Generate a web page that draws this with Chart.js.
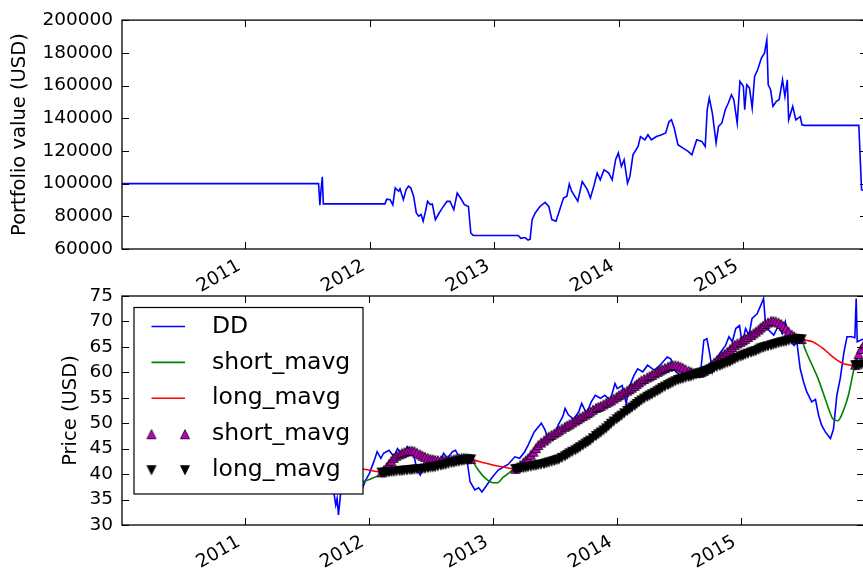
<!DOCTYPE html>
<html>
<head>
<meta charset="utf-8">
<script src="https://cdn.jsdelivr.net/npm/chart.js@4.4.1/dist/chart.umd.min.js"></script>
<style>
  html, body { margin: 0; padding: 0; background: #fff; overflow: hidden; }
  #wrap { position: relative; width: 863px; height: 573px; overflow: hidden; background: #fff; }
  #wrap canvas { position: absolute; left: 0; top: 0; }
</style>
</head>
<body>
<div id="wrap">
  <canvas id="portfolio" width="870" height="300"></canvas>
  <canvas id="price" width="870" height="573"></canvas>
</div>
<script>
// ---- axis definitions ----
const X_START = '2010-01-04';
const X_END = '2015-12-31';
const yearTicks = [2011, 2012, 2013, 2014, 2015];
const portfolioRange = { min: 60000, max: 200000, step: 20000 };
const priceRange = { min: 30, max: 75, step: 5 };

// ---- portfolio value (USD) ----
const portfolioValue = [
  ['2010-01-04', 100000], ['2011-08-04', 100000], ['2011-08-08', 86800], ['2011-08-11', 95500],
  ['2011-08-15', 104200], ['2011-08-18', 87600], ['2012-02-15', 87600], ['2012-02-20', 90500],
  ['2012-03-01', 90200], ['2012-03-09', 87000], ['2012-03-16', 97300], ['2012-03-26', 95300],
  ['2012-03-30', 96800], ['2012-04-09', 90200], ['2012-04-17', 96300], ['2012-04-24', 98400],
  ['2012-05-01', 97300], ['2012-05-09', 92300], ['2012-05-17', 82100], ['2012-05-24', 80100],
  ['2012-05-31', 81100], ['2012-06-06', 77000], ['2012-06-13', 83100], ['2012-06-19', 89200],
  ['2012-06-27', 87200], ['2012-07-03', 87500], ['2012-07-12', 77900], ['2012-07-23', 82000],
  ['2012-08-01', 85000], ['2012-08-15', 89100], ['2012-08-24', 89100], ['2012-09-04', 84000],
  ['2012-09-14', 94200], ['2012-09-27', 90100], ['2012-10-05', 87100], ['2012-10-17', 86000],
  ['2012-10-24', 69800], ['2012-10-31', 68300], ['2013-03-12', 68300], ['2013-03-20', 66500],
  ['2013-04-01', 67000], ['2013-04-10', 65500], ['2013-04-16', 66000], ['2013-04-22', 77900],
  ['2013-05-01', 82000], ['2013-05-15', 86000], ['2013-05-30', 88500], ['2013-06-10', 86000],
  ['2013-06-19', 78000], ['2013-07-01', 77000], ['2013-07-12', 84000], ['2013-07-23', 91200],
  ['2013-08-02', 92300], ['2013-08-09', 99700], ['2013-08-16', 95300], ['2013-09-03', 89200],
  ['2013-09-16', 101300], ['2013-10-01', 96300], ['2013-10-10', 91200], ['2013-10-21', 99100],
  ['2013-10-30', 106400], ['2013-11-08', 102300], ['2013-11-19', 108500], ['2013-12-03', 106400],
  ['2013-12-13', 102300], ['2013-12-23', 114600], ['2013-12-31', 118700], ['2014-01-09', 110500],
  ['2014-01-17', 114600], ['2014-01-27', 100300], ['2014-02-03', 104400], ['2014-02-12', 117600],
  ['2014-02-27', 122700], ['2014-03-06', 128800], ['2014-03-19', 126800], ['2014-03-28', 129900],
  ['2014-04-07', 126800], ['2014-04-22', 128800], ['2014-05-07', 129900], ['2014-05-19', 131000],
  ['2014-05-29', 138000], ['2014-06-05', 139000], ['2014-06-13', 134000], ['2014-06-24', 123800],
  ['2014-07-09', 121700], ['2014-07-24', 119700], ['2014-08-04', 117600], ['2014-08-18', 126800],
  ['2014-09-02', 125800], ['2014-09-12', 122700], ['2014-09-18', 145200], ['2014-09-24', 152300],
  ['2014-10-03', 143100], ['2014-10-14', 124800], ['2014-10-21', 135000], ['2014-10-31', 137100],
  ['2014-11-10', 145200], ['2014-11-19', 149300], ['2014-11-28', 154300], ['2014-12-05', 151300],
  ['2014-12-15', 137000], ['2014-12-23', 162500], ['2015-01-02', 159500], ['2015-01-06', 145200],
  ['2015-01-12', 160500], ['2015-01-20', 158500], ['2015-01-28', 146200], ['2015-02-04', 165500],
  ['2015-02-13', 169600], ['2015-02-24', 176800], ['2015-03-05', 179800], ['2015-03-12', 188000],
  ['2015-03-16', 160400], ['2015-03-23', 157400], ['2015-03-30', 147200], ['2015-04-09', 150300],
  ['2015-04-17', 151300], ['2015-04-27', 163500], ['2015-05-04', 153300], ['2015-05-11', 163500],
  ['2015-05-15', 139000], ['2015-05-27', 147200], ['2015-06-05', 139000], ['2015-06-18', 141000],
  ['2015-06-23', 136000], ['2015-06-30', 135600], ['2015-12-07', 135600], ['2015-12-15', 96300],
  ['2015-12-31', 95000]
];

// ---- DD closing price (USD) ----
const ddPrice = [
  ['2011-08-01', 42.0], ['2011-08-05', 39.8], ['2011-08-10', 37.8], ['2011-08-19', 38.5],
  ['2011-08-31', 40.0], ['2011-09-09', 38.2], ['2011-09-16', 38.8], ['2011-09-20', 36.6],
  ['2011-09-26', 33.9], ['2011-09-30', 35.2], ['2011-10-04', 32.0], ['2011-10-11', 36.6],
  ['2011-10-19', 38.0], ['2011-10-27', 39.5], ['2011-11-04', 38.2], ['2011-11-14', 39.0],
  ['2011-11-23', 37.0], ['2011-12-02', 38.4], ['2011-12-14', 37.2], ['2011-12-23', 38.8],
  ['2012-01-03', 40.1], ['2012-01-16', 42.4], ['2012-01-26', 44.4], ['2012-02-06', 43.1],
  ['2012-02-14', 44.1], ['2012-03-01', 44.7], ['2012-03-16', 43.4], ['2012-03-26', 45.0],
  ['2012-04-09', 43.7], ['2012-04-24', 45.4], ['2012-05-04', 44.7], ['2012-05-14', 43.4],
  ['2012-05-23', 40.8], ['2012-06-01', 39.8], ['2012-06-12', 41.4], ['2012-06-26', 40.8],
  ['2012-07-11', 41.4], ['2012-07-26', 42.1], ['2012-08-09', 44.1], ['2012-08-20', 43.1],
  ['2012-09-04', 44.4], ['2012-09-13', 44.7], ['2012-09-21', 43.7], ['2012-10-08', 43.4],
  ['2012-10-17', 42.7], ['2012-10-26', 38.5], ['2012-11-09', 36.9], ['2012-11-20', 37.3],
  ['2012-11-30', 36.5], ['2012-12-14', 37.8], ['2012-12-28', 39.2], ['2013-01-17', 40.8],
  ['2013-02-01', 41.4], ['2013-02-15', 41.9], ['2013-03-07', 43.4], ['2013-03-21', 43.1],
  ['2013-04-05', 44.4], ['2013-04-15', 45.7], ['2013-05-03', 48.3], ['2013-05-24', 50.0],
  ['2013-06-03', 48.8], ['2013-06-13', 47.0], ['2013-06-28', 46.7], ['2013-07-12', 49.6],
  ['2013-07-26', 51.3], ['2013-08-02', 52.9], ['2013-08-12', 51.6], ['2013-08-27', 50.8],
  ['2013-09-11', 52.2], ['2013-09-20', 53.9], ['2013-10-04', 51.9], ['2013-10-18', 54.2],
  ['2013-10-30', 55.5], ['2013-11-14', 54.9], ['2013-11-27', 55.5], ['2013-12-13', 54.5],
  ['2013-12-27', 57.8], ['2014-01-03', 56.8], ['2014-01-17', 57.4], ['2014-01-29', 53.9],
  ['2014-02-07', 57.1], ['2014-02-21', 59.4], ['2014-03-04', 60.7], ['2014-03-19', 60.1],
  ['2014-04-02', 61.4], ['2014-04-22', 60.4], ['2014-05-09', 61.4], ['2014-05-30', 63.0],
  ['2014-06-10', 62.6], ['2014-06-24', 60.1], ['2014-07-09', 59.4], ['2014-07-24', 58.8],
  ['2014-08-07', 59.1], ['2014-08-22', 60.4], ['2014-09-05', 59.8], ['2014-09-15', 66.3],
  ['2014-09-24', 66.6], ['2014-10-03', 63.4], ['2014-10-10', 60.1], ['2014-10-20', 62.6],
  ['2014-11-04', 64.0], ['2014-11-18', 65.3], ['2014-11-28', 67.0], ['2014-12-08', 66.0],
  ['2014-12-18', 68.6], ['2014-12-29', 69.2], ['2015-01-06', 65.7], ['2015-01-16', 68.6],
  ['2015-01-26', 67.3], ['2015-02-04', 70.6], ['2015-02-19', 71.5], ['2015-03-02', 73.2],
  ['2015-03-10', 74.5], ['2015-03-16', 69.2], ['2015-03-25', 68.3], ['2015-04-09', 67.3],
  ['2015-04-23', 69.2], ['2015-05-04', 67.6], ['2015-05-13', 69.9], ['2015-05-22', 66.6],
  ['2015-06-08', 65.3], ['2015-06-16', 66.0], ['2015-06-26', 60.7], ['2015-07-06', 58.1],
  ['2015-07-15', 56.2], ['2015-07-30', 54.2], ['2015-08-10', 54.7], ['2015-08-19', 51.6],
  ['2015-08-28', 49.6], ['2015-09-08', 48.3], ['2015-09-23', 47.0], ['2015-10-02', 48.8],
  ['2015-10-12', 55.5], ['2015-10-22', 58.8], ['2015-11-02', 64.0], ['2015-11-11', 67.0],
  ['2015-11-25', 67.0], ['2015-12-04', 66.8], ['2015-12-08', 74.5], ['2015-12-11', 66.0],
  ['2015-12-31', 66.6]
];

// ---- 100-day moving average ----
const shortMavg = [
  ['2011-08-01', 42.5], ['2011-08-15', 41.9], ['2011-09-01', 41.0], ['2011-09-15', 40.2], ['2011-10-01', 39.4],
  ['2011-10-15', 38.8], ['2011-11-01', 38.4], ['2011-11-15', 38.2], ['2011-12-01', 38.2], ['2011-12-15', 38.5],
  ['2012-01-01', 38.9], ['2012-01-15', 39.3], ['2012-02-01', 39.8], ['2012-02-08', 40.35], ['2012-02-15', 40.8],
  ['2012-02-23', 41.4], ['2012-03-01', 42.0], ['2012-03-08', 42.6], ['2012-03-15', 43.2], ['2012-03-23', 43.6],
  ['2012-04-01', 43.9], ['2012-04-08', 44.1], ['2012-04-15', 44.3], ['2012-04-23', 44.5], ['2012-05-01', 44.6],
  ['2012-05-08', 44.6], ['2012-05-15', 44.5], ['2012-05-23', 44.2], ['2012-06-01', 43.9], ['2012-06-08', 43.6],
  ['2012-06-15', 43.4], ['2012-06-23', 43.2], ['2012-07-01', 43.0], ['2012-07-08', 42.9], ['2012-07-15', 42.8],
  ['2012-07-23', 42.75], ['2012-08-01', 42.7], ['2012-08-08', 42.7], ['2012-08-15', 42.7], ['2012-08-23', 42.75],
  ['2012-09-01', 42.8], ['2012-09-08', 42.9], ['2012-09-15', 43.0], ['2012-09-23', 43.1], ['2012-10-01', 43.2],
  ['2012-10-08', 43.2], ['2012-10-15', 43.2], ['2012-10-22', 43.1], ['2012-10-29', 43.0], ['2012-11-01', 42.7],
  ['2012-11-15', 41.2], ['2012-12-01', 39.8], ['2012-12-15', 38.9], ['2013-01-01', 38.3], ['2013-01-15', 38.3],
  ['2013-02-01', 39.4], ['2013-02-15', 40.1], ['2013-03-01', 40.8], ['2013-03-08', 41.05], ['2013-03-15', 41.4],
  ['2013-03-23', 41.8], ['2013-04-01', 42.3], ['2013-04-08', 42.7], ['2013-04-15', 43.1], ['2013-04-23', 43.8],
  ['2013-05-01', 44.4], ['2013-05-08', 45.1], ['2013-05-15', 45.7], ['2013-05-23', 46.2], ['2013-06-01', 46.6],
  ['2013-06-08', 47.0], ['2013-06-15', 47.4], ['2013-06-23', 47.7], ['2013-07-01', 48.0], ['2013-07-08', 48.3],
  ['2013-07-15', 48.6], ['2013-07-23', 48.95], ['2013-08-01', 49.3], ['2013-08-08', 49.55], ['2013-08-15', 49.8],
  ['2013-08-23', 50.15], ['2013-09-01', 50.5], ['2013-09-08', 50.8], ['2013-09-15', 51.1], ['2013-09-23', 51.4],
  ['2013-10-01', 51.7], ['2013-10-08', 52.0], ['2013-10-15', 52.3], ['2013-10-23', 52.65], ['2013-11-01', 53.0],
  ['2013-11-08', 53.2], ['2013-11-15', 53.4], ['2013-11-23', 53.7], ['2013-12-01', 54.0], ['2013-12-08', 54.25],
  ['2013-12-15', 54.5], ['2013-12-23', 54.85], ['2014-01-01', 55.2], ['2014-01-08', 55.5], ['2014-01-15', 55.8],
  ['2014-01-23', 56.1], ['2014-02-01', 56.4], ['2014-02-08', 56.7], ['2014-02-15', 57.0], ['2014-02-23', 57.35],
  ['2014-03-01', 57.7], ['2014-03-08', 58.05], ['2014-03-15', 58.4], ['2014-03-23', 58.7], ['2014-04-01', 59.0],
  ['2014-04-08', 59.25], ['2014-04-15', 59.5], ['2014-04-23', 59.8], ['2014-05-01', 60.1], ['2014-05-08', 60.35],
  ['2014-05-15', 60.6], ['2014-05-23', 60.85], ['2014-06-01', 61.1], ['2014-06-08', 61.25], ['2014-06-15', 61.4],
  ['2014-06-23', 61.4], ['2014-07-01', 61.3], ['2014-07-08', 61.1], ['2014-07-15', 60.9], ['2014-07-23', 60.6],
  ['2014-08-01', 60.3], ['2014-08-08', 60.1], ['2014-08-15', 59.9], ['2014-08-23', 59.85], ['2014-09-01', 59.9],
  ['2014-09-08', 60.05], ['2014-09-15', 60.3], ['2014-09-23', 60.65], ['2014-10-01', 61.0], ['2014-10-08', 61.45],
  ['2014-10-15', 61.9], ['2014-10-23', 62.35], ['2014-11-01', 62.8], ['2014-11-08', 63.2], ['2014-11-15', 63.6],
  ['2014-11-23', 64.05], ['2014-12-01', 64.5], ['2014-12-08', 64.95], ['2014-12-15', 65.4], ['2014-12-23', 65.7],
  ['2015-01-01', 66.0], ['2015-01-08', 66.3], ['2015-01-15', 66.6], ['2015-01-23', 66.95], ['2015-02-01', 67.3],
  ['2015-02-08', 67.65], ['2015-02-15', 68.0], ['2015-02-23', 68.4], ['2015-03-01', 68.8], ['2015-03-08', 69.15],
  ['2015-03-15', 69.5], ['2015-03-23', 69.8], ['2015-04-01', 70.1], ['2015-04-08', 70.1], ['2015-04-15', 70.0],
  ['2015-04-23', 69.8], ['2015-05-01', 69.5], ['2015-05-08', 69.1], ['2015-05-15', 68.6], ['2015-05-23', 68.0],
  ['2015-06-01', 67.4], ['2015-06-08', 67.1], ['2015-06-15', 66.8], ['2015-06-23', 66.65], ['2015-06-30', 66.55],
  ['2015-07-08', 65.0], ['2015-07-15', 63.8], ['2015-08-01', 61.3], ['2015-08-15', 59.2], ['2015-09-01', 56.1],
  ['2015-09-15', 53.4], ['2015-10-01', 50.8], ['2015-10-15', 50.5], ['2015-11-01', 52.6], ['2015-11-15', 55.5],
  ['2015-12-01', 60.5], ['2015-12-05', 61.5], ['2015-12-08', 62.0], ['2015-12-15', 63.6], ['2015-12-23', 64.6],
  ['2015-12-31', 65.5]
];

// ---- 300-day moving average ----
const longMavg = [
  ['2011-08-01', 42.6], ['2011-08-15', 42.5], ['2011-09-01', 42.3], ['2011-09-15', 42.1], ['2011-10-01', 41.9],
  ['2011-10-15', 41.7], ['2011-11-01', 41.5], ['2011-11-15', 41.4], ['2011-12-01', 41.2], ['2011-12-15', 41.0],
  ['2012-01-01', 40.8], ['2012-01-15', 40.6], ['2012-02-01', 40.4], ['2012-02-08', 40.3], ['2012-02-15', 40.3],
  ['2012-02-23', 40.35], ['2012-03-01', 40.4], ['2012-03-08', 40.45], ['2012-03-15', 40.5], ['2012-03-23', 40.55],
  ['2012-04-01', 40.6], ['2012-04-08', 40.65], ['2012-04-15', 40.7], ['2012-04-23', 40.75], ['2012-05-01', 40.8],
  ['2012-05-08', 40.85], ['2012-05-15', 40.9], ['2012-05-23', 40.95], ['2012-06-01', 41.0], ['2012-06-08', 41.05],
  ['2012-06-15', 41.1], ['2012-06-23', 41.2], ['2012-07-01', 41.3], ['2012-07-08', 41.35], ['2012-07-15', 41.4],
  ['2012-07-23', 41.55], ['2012-08-01', 41.7], ['2012-08-08', 41.8], ['2012-08-15', 41.9], ['2012-08-23', 42.05],
  ['2012-09-01', 42.2], ['2012-09-08', 42.3], ['2012-09-15', 42.4], ['2012-09-23', 42.5], ['2012-10-01', 42.6],
  ['2012-10-08', 42.7], ['2012-10-15', 42.8], ['2012-10-22', 42.85], ['2012-10-29', 42.9], ['2012-11-01', 42.85],
  ['2012-11-15', 42.6], ['2012-12-01', 42.3], ['2012-12-15', 42.1], ['2013-01-01', 41.8], ['2013-01-15', 41.6],
  ['2013-02-01', 41.4], ['2013-02-15', 41.2], ['2013-03-01', 41.05], ['2013-03-08', 41.0], ['2013-03-15', 41.05],
  ['2013-03-23', 41.1], ['2013-04-01', 41.2], ['2013-04-08', 41.3], ['2013-04-15', 41.4], ['2013-04-23', 41.5],
  ['2013-05-01', 41.6], ['2013-05-08', 41.7], ['2013-05-15', 41.8], ['2013-05-23', 41.9], ['2013-06-01', 42.0],
  ['2013-06-08', 42.15], ['2013-06-15', 42.3], ['2013-06-23', 42.45], ['2013-07-01', 42.6], ['2013-07-08', 42.75],
  ['2013-07-15', 42.9], ['2013-07-23', 43.2], ['2013-08-01', 43.5], ['2013-08-08', 43.8], ['2013-08-15', 44.1],
  ['2013-08-23', 44.4], ['2013-09-01', 44.7], ['2013-09-08', 45.0], ['2013-09-15', 45.3], ['2013-09-23', 45.65],
  ['2013-10-01', 46.0], ['2013-10-08', 46.3], ['2013-10-15', 46.6], ['2013-10-23', 47.05], ['2013-11-01', 47.5],
  ['2013-11-08', 47.85], ['2013-11-15', 48.2], ['2013-11-23', 48.6], ['2013-12-01', 49.0], ['2013-12-08', 49.45],
  ['2013-12-15', 49.9], ['2013-12-23', 50.35], ['2014-01-01', 50.8], ['2014-01-08', 51.15], ['2014-01-15', 51.5],
  ['2014-01-23', 51.95], ['2014-02-01', 52.4], ['2014-02-08', 52.75], ['2014-02-15', 53.1], ['2014-02-23', 53.45],
  ['2014-03-01', 53.8], ['2014-03-08', 54.15], ['2014-03-15', 54.5], ['2014-03-23', 54.85], ['2014-04-01', 55.2],
  ['2014-04-08', 55.45], ['2014-04-15', 55.7], ['2014-04-23', 56.0], ['2014-05-01', 56.3], ['2014-05-08', 56.6],
  ['2014-05-15', 56.9], ['2014-05-23', 57.2], ['2014-06-01', 57.5], ['2014-06-08', 57.75], ['2014-06-15', 58.0],
  ['2014-06-23', 58.25], ['2014-07-01', 58.5], ['2014-07-08', 58.65], ['2014-07-15', 58.8], ['2014-07-23', 58.95],
  ['2014-08-01', 59.1], ['2014-08-08', 59.25], ['2014-08-15', 59.4], ['2014-08-23', 59.6], ['2014-09-01', 59.8],
  ['2014-09-08', 59.95], ['2014-09-15', 60.1], ['2014-09-23', 60.3], ['2014-10-01', 60.5], ['2014-10-08', 60.7],
  ['2014-10-15', 60.9], ['2014-10-23', 61.1], ['2014-11-01', 61.3], ['2014-11-08', 61.5], ['2014-11-15', 61.7],
  ['2014-11-23', 61.9], ['2014-12-01', 62.1], ['2014-12-08', 62.35], ['2014-12-15', 62.6], ['2014-12-23', 62.85],
  ['2015-01-01', 63.1], ['2015-01-08', 63.3], ['2015-01-15', 63.5], ['2015-01-23', 63.7], ['2015-02-01', 63.9],
  ['2015-02-08', 64.05], ['2015-02-15', 64.2], ['2015-02-23', 64.45], ['2015-03-01', 64.7], ['2015-03-08', 64.85],
  ['2015-03-15', 65.0], ['2015-03-23', 65.15], ['2015-04-01', 65.3], ['2015-04-08', 65.45], ['2015-04-15', 65.6],
  ['2015-04-23', 65.75], ['2015-05-01', 65.9], ['2015-05-08', 66.0], ['2015-05-15', 66.1], ['2015-05-23', 66.25],
  ['2015-06-01', 66.4], ['2015-06-08', 66.45], ['2015-06-15', 66.5], ['2015-06-23', 66.5], ['2015-06-30', 66.5],
  ['2015-07-08', 66.4], ['2015-07-15', 66.3], ['2015-08-01', 66.0], ['2015-08-15', 65.5], ['2015-09-01', 64.7],
  ['2015-09-15', 63.9], ['2015-10-01', 63.0], ['2015-10-15', 62.3], ['2015-11-01', 61.7], ['2015-11-15', 61.5],
  ['2015-12-01', 61.4], ['2015-12-05', 61.4], ['2015-12-08', 61.4], ['2015-12-15', 61.4], ['2015-12-23', 61.5],
  ['2015-12-31', 61.6]
];

// periods in which the strategy holds the position (short average above long average)
const holdPeriods = [
  ['2012-02-08', '2012-10-31'],
  ['2013-03-08', '2015-06-30'],
  ['2015-12-05', '2015-12-31']
];

// ---- helpers ----
const FONT = 'DejaVu Sans';
const ts = s => Date.parse(s + 'T00:00:00Z');
const toPoints = rows => rows.map(([d, v]) => ({ x: ts(d), y: v }));
const inHold = d => holdPeriods.some(([a, b]) => ts(d) >= ts(a) && ts(d) <= ts(b));
const heldPoints = rows => toPoints(rows.filter(([d]) => inHold(d)));

function triangleMarker(fill, up) {
  const size = 9, pad = 1.5;
  const c = document.createElement('canvas');
  c.width = c.height = Math.ceil(size + 2 * pad);
  const g = c.getContext('2d');
  const m = c.width / 2, h = size / 2;
  g.beginPath();
  if (up) { g.moveTo(m, m - h); g.lineTo(m + h, m + h); g.lineTo(m - h, m + h); }
  else { g.moveTo(m, m + h); g.lineTo(m + h, m - h); g.lineTo(m - h, m - h); }
  g.closePath();
  g.fillStyle = fill; g.fill();
  g.lineWidth = 0.8; g.strokeStyle = '#000'; g.stroke();
  return c;
}
const upMarker = triangleMarker('#bf00bf', true);
const downMarker = triangleMarker('#000000', false);

// inward tick marks on all four sides and the axes frame
const frameAndTicks = {
  id: 'frameAndTicks',
  afterDatasetsDraw(chart) {
    const { ctx, chartArea: a, scales: { x, y } } = chart;
    const len = 7;
    ctx.save();
    ctx.strokeStyle = '#000';
    ctx.lineWidth = 1;
    ctx.beginPath();
    x.ticks.forEach(t => {
      const p = Math.round(x.getPixelForValue(t.value)) + 0.5;
      ctx.moveTo(p, a.bottom); ctx.lineTo(p, a.bottom - len);
      ctx.moveTo(p, a.top); ctx.lineTo(p, a.top + len);
    });
    y.ticks.forEach(t => {
      const p = Math.round(y.getPixelForValue(t.value)) + 0.5;
      ctx.moveTo(a.left, p); ctx.lineTo(a.left + len, p);
      ctx.moveTo(a.right, p); ctx.lineTo(a.right - len, p);
    });
    ctx.stroke();
    ctx.lineWidth = 1.3;
    ctx.strokeRect(a.left, a.top, a.right - a.left, a.bottom - a.top);
    ctx.restore();
  }
};

// boxed legend in the upper left of the price panel
const priceLegend = {
  id: 'priceLegend',
  afterDraw(chart) {
    const { ctx } = chart;
    const box = { x: 134, y: 307.5, w: 229, h: 186.5 };
    const rowTop = 326.5, rowStep = 35.9;
    const hx0 = 151.5, hx1 = 185, textX = 212;
    ctx.save();
    ctx.fillStyle = '#fff';
    ctx.fillRect(box.x, box.y, box.w, box.h);
    ctx.strokeStyle = '#000';
    ctx.lineWidth = 1.2;
    ctx.strokeRect(box.x, box.y, box.w, box.h);
    ctx.font = '23.5px "' + FONT + '"';
    ctx.textBaseline = 'middle';
    ctx.textAlign = 'left';
    chart.data.datasets.forEach((ds, i) => {
      const y = rowTop + i * rowStep;
      if (ds.showLine === false) {
        [hx0, hx1].forEach(hx => ctx.drawImage(ds.pointStyle, hx - ds.pointStyle.width / 2, y - ds.pointStyle.height / 2));
      } else {
        ctx.strokeStyle = ds.borderColor;
        ctx.lineWidth = ds.borderWidth;
        ctx.beginPath(); ctx.moveTo(hx0, y); ctx.lineTo(hx1, y); ctx.stroke();
      }
      ctx.fillStyle = '#000';
      ctx.fillText(ds.label, textX, y);
    });
    ctx.restore();
  }
};

function dateAxis(height) {
  return {
    type: 'linear',
    min: ts(X_START),
    max: ts(X_END),
    afterBuildTicks: s => { s.ticks = yearTicks.map(yr => ({ value: Date.UTC(yr, 0, 1) })); },
    afterFit: s => { s.height = height; },
    ticks: {
      autoSkip: false, minRotation: 30, maxRotation: 30, padding: 6, labelOffset: -6, color: '#000',
      font: { family: FONT, size: 18.5 },
      callback: v => String(new Date(v).getUTCFullYear())
    },
    grid: { display: false, drawTicks: false },
    border: { display: false }
  };
}

function valueAxis(range, title, titlePad) {
  return {
    type: 'linear',
    min: range.min,
    max: range.max,
    afterFit: s => { s.width = 122; },
    ticks: {
      stepSize: range.step, padding: 9, color: '#000',
      font: { family: FONT, size: 18.5 },
      callback: v => String(v)
    },
    grid: { display: false, drawTicks: false },
    border: { display: false },
    title: {
      display: true, text: title, color: '#000',
      font: { family: FONT, size: 19.5 },
      padding: { top: titlePad, bottom: 0 }
    }
  };
}

const baseOptions = {
  responsive: false,
  animation: false,
  events: [],
  plugins: { legend: { display: false }, tooltip: { enabled: false } }
};

// ---- top panel: portfolio value ----
new Chart(document.getElementById('portfolio'), {
  type: 'line',
  data: {
    datasets: [{
      label: 'portfolio_value',
      data: toPoints(portfolioValue),
      borderColor: '#0000ff',
      borderWidth: 1.6,
      pointRadius: 0,
      tension: 0
    }]
  },
  options: {
    ...baseOptions,
    layout: { padding: { top: 20, right: 3, left: 0, bottom: 0 } },
    scales: {
      x: dateAxis(51),
      y: valueAxis(portfolioRange, 'Portfolio value (USD)', 8)
    }
  },
  plugins: [frameAndTicks]
});

// ---- bottom panel: price, moving averages and position markers ----
new Chart(document.getElementById('price'), {
  type: 'line',
  data: {
    datasets: [
      { label: 'DD', data: toPoints(ddPrice), borderColor: '#0000ff', borderWidth: 1.6, pointRadius: 0, tension: 0, order: 5 },
      { label: 'short_mavg', data: toPoints(shortMavg), borderColor: '#008000', borderWidth: 1.6, pointRadius: 0, cubicInterpolationMode: 'monotone', order: 4 },
      { label: 'long_mavg', data: toPoints(longMavg), borderColor: '#ff0000', borderWidth: 1.6, pointRadius: 0, cubicInterpolationMode: 'monotone', order: 3 },
      { label: 'short_mavg', data: heldPoints(shortMavg), showLine: false, pointStyle: upMarker, pointRadius: 5, order: 2 },
      { label: 'long_mavg', data: heldPoints(longMavg), showLine: false, pointStyle: downMarker, pointRadius: 5, order: 1 }
    ]
  },
  options: {
    ...baseOptions,
    layout: { padding: { top: 296, right: 3, left: 0, bottom: 0 } },
    scales: {
      x: dateAxis(48),
      y: valueAxis(priceRange, 'Price (USD)', 59)
    }
  },
  plugins: [frameAndTicks, priceLegend]
});
</script>
</body>
</html>
